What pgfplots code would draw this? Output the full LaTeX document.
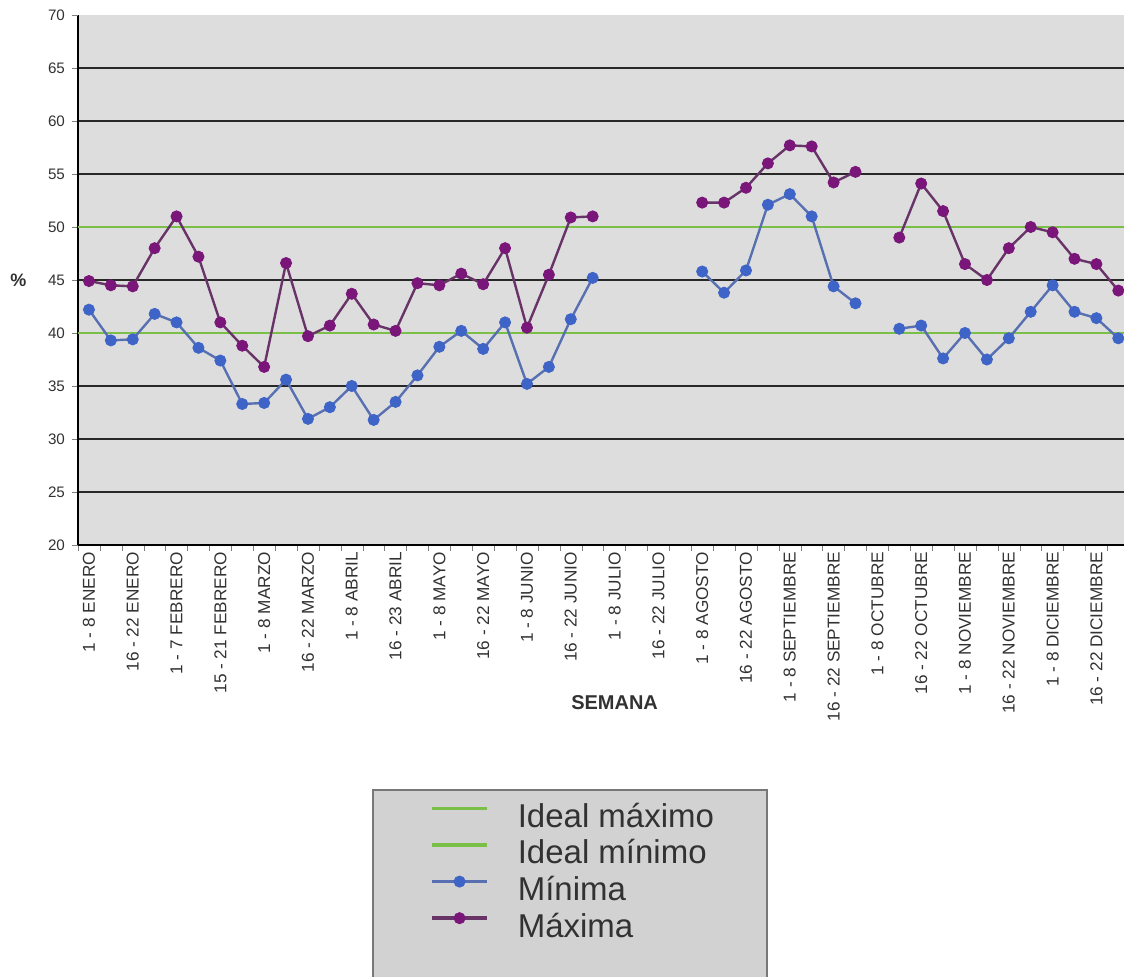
\documentclass[border=0pt]{standalone}
\usepackage{pgfplots}
\pgfplotsset{compat=1.18}
\usepackage{pgfplotstable}
\usepackage{fontspec}
\setmainfont{Liberation Sans}
\definecolor{plotbg}{RGB}{221,221,221}
\definecolor{gridcol}{RGB}{40,40,40}
\definecolor{idealgreen}{RGB}{122,192,72}
\definecolor{bluemark}{RGB}{62,100,200}
\definecolor{blueline}{RGB}{88,112,178}
\definecolor{purpmark}{RGB}{122,22,122}
\definecolor{purpline}{RGB}{104,52,104}
\definecolor{legfill}{RGB}{210,210,210}
\definecolor{legborder}{RGB}{120,120,120}
\definecolor{txt}{RGB}{50,50,50}

\pgfplotstableread{
idx maxv minv
0 44.9 42.2
1 44.5 39.3
2 44.4 39.4
3 48.0 41.8
4 51.0 41.0
5 47.2 38.6
6 41.0 37.4
7 38.8 33.3
8 36.8 33.4
9 46.6 35.6
10 39.7 31.9
11 40.7 33.0
12 43.7 35.0
13 40.8 31.8
14 40.2 33.5
15 44.7 36.0
16 44.5 38.7
17 45.6 40.2
18 44.6 38.5
19 48.0 41.0
20 40.5 35.2
21 45.5 36.8
22 50.9 41.3
23 51.0 45.2
24 nan nan
25 nan nan
26 nan nan
27 nan nan
28 52.3 45.8
29 52.3 43.8
30 53.7 45.9
31 56.0 52.1
32 57.7 53.1
33 57.6 51.0
34 54.2 44.4
35 55.2 42.8
36 nan nan
37 49.0 40.4
38 54.1 40.7
39 51.5 37.6
40 46.5 40.0
41 45.0 37.5
42 48.0 39.5
43 50.0 42.0
44 49.5 44.5
45 47.0 42.0
46 46.5 41.4
47 44.0 39.5
}\datatable

\begin{document}
\begin{tikzpicture}
\fill[legfill] (147.5pt,-122.5pt) rectangle (344.5pt,-240pt);
\draw[legborder, line width=0.6pt] (147.5pt,-240pt) -- (147.5pt,-122.5pt) -- (344.5pt,-122.5pt) -- (344.5pt,-240pt);
\begin{axis}[
  scale only axis, width=523pt, height=265pt,
  xmin=-0.5, xmax=47.26, ymin=20, ymax=70,
  axis x line*=bottom, axis y line*=left,
  axis line style={black, line width=1pt},
  axis background/.style={fill=plotbg},
  /pgf/number format/assume math mode=true,
  unbounded coords=jump,
  tick align=outside,
  major tick length=3pt,
  ytick={20,25,...,65},
  extra y ticks={70},
  extra y tick style={grid=none},
  ymajorgrids,
  major grid style={gridcol, line width=1pt},
  yticklabel style={font=\fontsize{7.6}{9}\selectfont, text=txt},
  xtick={-0.5,0.5,...,47.5},
  xticklabels={},
  extra x ticks={0,2,...,46},
  extra x tick labels={1 - 8 ENERO,16 - 22 ENERO,1 - 7 FEBRERO,15 - 21 FEBRERO,1 - 8 MARZO,16 - 22 MARZO,1 - 8 ABRIL,16 - 23 ABRIL,1 - 8 MAYO,16 - 22 MAYO,1 - 8 JUNIO,16 - 22 JUNIO,1 - 8 JULIO,16 - 22 JULIO,1 - 8 AGOSTO,16 - 22 AGOSTO,1 - 8 SEPTIEMBRE,16 - 22 SEPTIEMBRE,1 - 8 OCTUBRE,16 - 22 OCTUBRE,1 - 8 NOVIEMBRE,16 - 22 NOVIEMBRE,1 - 8 DICIEMBRE,16 - 22 DICIEMBRE},
  extra x tick style={major tick length=0pt, grid=none},
  xticklabel style={rotate=90, anchor=east, font=\fontsize{8.6}{10}\selectfont, text=txt},
  xlabel={\textbf{SEMANA}},
  xlabel style={at={(axis description cs:0.513,-0.298)}, anchor=center, font=\fontsize{10}{12}\selectfont, text=txt},
  ylabel={\textbf{\%}},
  ylabel style={at={(axis description cs:-0.057,0.5)}, anchor=center, rotate=-90, font=\fontsize{9}{11}\selectfont, text=txt},
  legend cell align=left,
  legend style={draw=none, fill=none, at={(axis description cs:0.3365,-0.483)}, anchor=north west,
    inner sep=0pt, row sep=2.3pt, font=\fontsize{16.5}{19}\selectfont, text=txt,
    nodes={inner sep=0pt, text height=13pt, text depth=3pt},
    /tikz/every odd column/.append style={column sep=14.5pt}},
  legend image code/.code={\draw[mark repeat=2,mark phase=2,#1,line width=1.7pt] plot coordinates {(0pt,4.5pt) (13.75pt,4.5pt) (27.5pt,4.5pt)};},
]
\addplot[idealgreen, line width=1.3pt] coordinates {(-0.5,50) (47.5,50)};
\addlegendentry{Ideal máximo}
\addplot[idealgreen, line width=1.3pt] coordinates {(-0.5,40) (47.5,40)};
\addlegendentry{Ideal mínimo}
\addplot[blueline, line width=1.2pt, mark=*, mark size=2.8pt, mark options={fill=bluemark, draw=bluemark, line width=0.4pt}] table[x=idx, y=minv] {\datatable};
\addlegendentry{Mínima}
\addplot[purpline, line width=1.2pt, mark=*, mark size=2.8pt, mark options={fill=purpmark, draw=purpmark, line width=0.4pt}] table[x=idx, y=maxv] {\datatable};
\addlegendentry{Máxima}
\end{axis}
\pgfresetboundingbox
\path[use as bounding box] (-39pt,-216pt) rectangle (523pt,272.5pt);
\end{tikzpicture}
\end{document}
